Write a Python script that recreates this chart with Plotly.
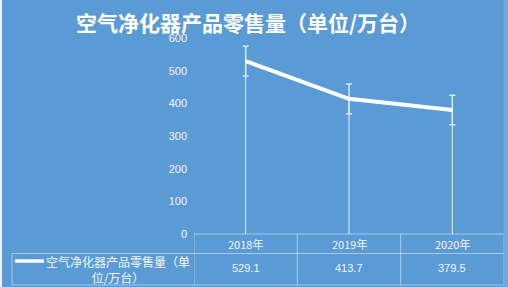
import plotly.graph_objects as go

categories = ["2018年", "2019年", "2020年"]
values = [529.1, 413.7, 379.5]
std_err = [45.3, 45.3, 45.3]
series_name = "空气净化器产品零售量（单位/万台）"
title_text = "空气净化器产品零售量（单位/万台）"
y_ticks = [0, 100, 200, 300, 400, 500, 600]

W, H = 508, 287
L, R, T, B = 194, 4, 38, 53
PW, PH = W - L - R, H - T - B
BG = "#5B9BD5"
TXT = "#F2F6FB"
GRIDC = "rgba(255,255,255,0.45)"
CJK = "Noto Sans CJK SC"


def px(xp):
    return (xp - L) / PW


def py(yp):
    return (H - B - yp) / PH


fig = go.Figure()

# drop lines from each point to the axis
dx, dy = [], []
for c, v in zip(categories, values):
    dx += [c, c, None]
    dy += [v, 0, None]
fig.add_trace(go.Scatter(x=dx, y=dy, mode="lines",
                         line=dict(color="rgba(255,255,255,0.85)", width=1),
                         hoverinfo="skip", showlegend=False))

fig.add_trace(go.Scatter(
    x=categories, y=values, mode="lines", name=series_name,
    line=dict(color="white", width=4),
    error_y=dict(type="data", array=std_err, visible=True,
                 color="#D9E7F6", thickness=1.5, width=3),
    showlegend=False))

shapes = []
line_style = dict(color=GRIDC, width=1)
# table horizontal lines
for yp, x0 in [(234, 194), (253.5, 12), (285, 12)]:
    shapes.append(dict(type="line", xref="paper", yref="paper",
                       x0=px(x0), x1=px(504), y0=py(yp), y1=py(yp), line=line_style))
# vertical lines
shapes.append(dict(type="line", xref="paper", yref="paper",
                   x0=px(12), x1=px(12), y0=py(253.5), y1=py(285), line=line_style))
for i in range(len(categories) + 1):
    shapes.append(dict(type="line", xref="x", yref="paper",
                       x0=i - 0.5, x1=i - 0.5, y0=py(234), y1=py(285), line=line_style))
# legend swatch
shapes.append(dict(type="line", xref="paper", yref="paper",
                   x0=px(15), x1=px(44), y0=py(261), y1=py(261),
                   line=dict(color="white", width=3.5)))
# edge strips (spreadsheet behind the chart)
shapes.append(dict(type="rect", xref="paper", yref="paper", x0=px(0), x1=px(2),
                   y0=py(0), y1=py(H), fillcolor="#EEF2F6", line=dict(width=0), layer="above"))
shapes.append(dict(type="rect", xref="paper", yref="paper", x0=px(503.5), x1=px(W),
                   y0=py(0), y1=py(H), fillcolor="#6FA7DA", line=dict(width=0), layer="above"))

annotations = []
for c, v in zip(categories, values):
    annotations.append(dict(x=c, xref="x", y=py(244), yref="paper", text=c,
                            showarrow=False, font=dict(family=CJK, size=11, color=TXT),
                            xanchor="center", yanchor="middle"))
    annotations.append(dict(x=c, xref="x", y=py(268), yref="paper", text=f"{v:.1f}",
                            showarrow=False, font=dict(family="Liberation Sans", size=11, color=TXT),
                            xanchor="center", yanchor="middle"))
annotations.append(dict(x=px(118), xref="paper", y=py(269), yref="paper",
                        text="空气净化器产品零售量（单<br>位/万台）", align="center",
                        showarrow=False, font=dict(family=CJK, size=12, color=TXT),
                        xanchor="center", yanchor="middle"))

fig.update_layout(
    width=W, height=H,
    margin=dict(l=L, r=R, t=T, b=B, pad=0),
    paper_bgcolor=BG, plot_bgcolor=BG,
    title=dict(text=title_text, x=248 / W, xanchor="center", y=1 - 23.5 / H, yanchor="middle",
               font=dict(family=CJK, size=21, color="white", weight="bold")),
    xaxis=dict(type="category", range=[-0.5, 2.5], showticklabels=False,
               showgrid=False, zeroline=False, showline=False, fixedrange=True),
    yaxis=dict(range=[0, 600], tickvals=y_ticks, showgrid=False, zeroline=False,
               showline=False, ticks="", ticklabelstandoff=6,
               tickfont=dict(family="Liberation Sans", size=11, color=TXT)),
    shapes=shapes, annotations=annotations, showlegend=False,
)

fig.write_html("out.html")
